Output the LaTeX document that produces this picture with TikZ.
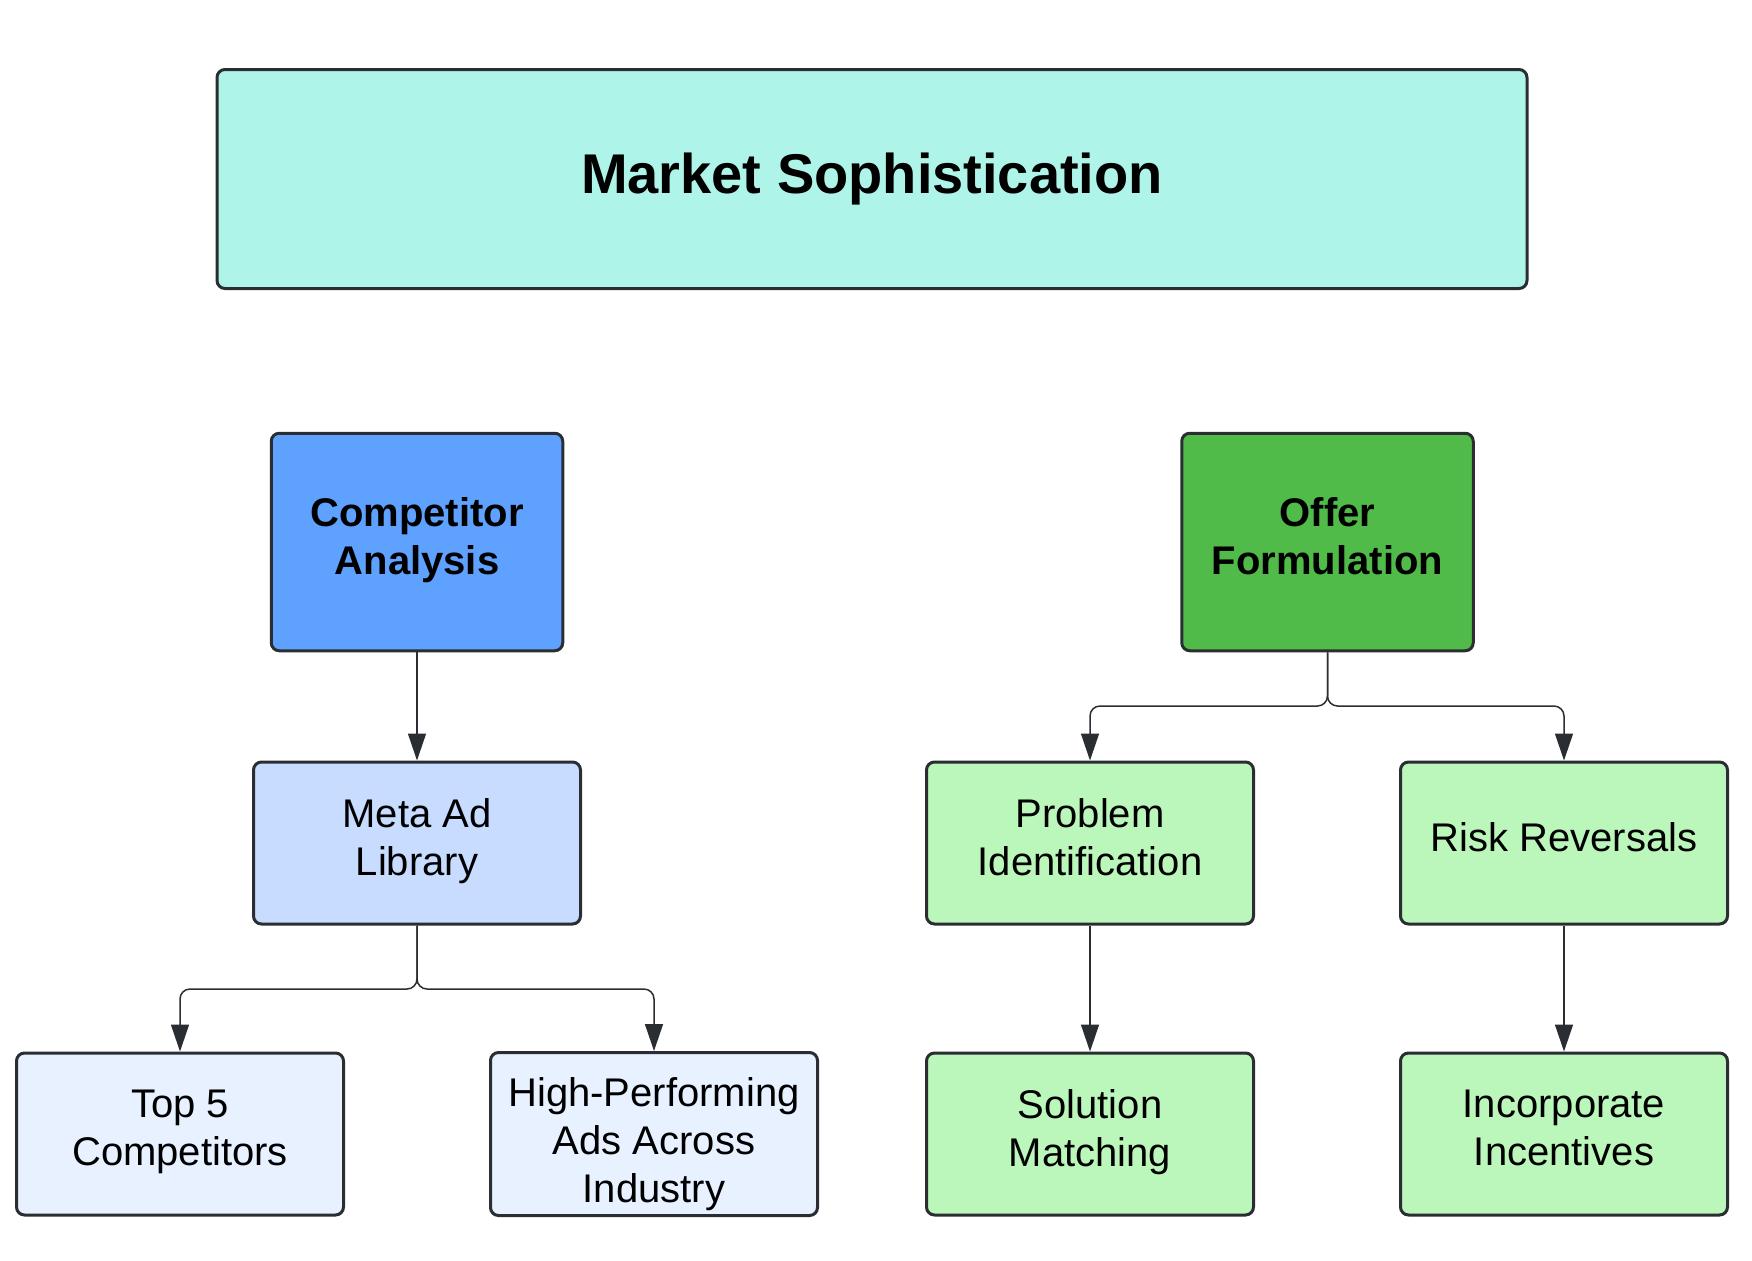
\documentclass[tikz,border=0pt]{standalone}
\usepackage{fontspec}
\setmainfont{Liberation Sans}
\usetikzlibrary{arrows.meta}

\definecolor{inkline}{HTML}{2A2E33}
\definecolor{titlefill}{HTML}{AEF4E8}
\definecolor{compfill}{HTML}{5EA1FF}
\definecolor{metafill}{HTML}{C7DCFF}
\definecolor{palefill}{HTML}{E8F1FF}
\definecolor{offerfill}{HTML}{51BB49}
\definecolor{leaffill}{HTML}{BBF6BB}

\begin{document}
\begin{tikzpicture}[x=0.5pt,y=-0.5pt,
        font=\fontsize{20}{24}\selectfont,
        every node/.style={draw=inkline,line width=1.5pt,rounded corners=4pt,align=center,inner sep=0pt},
        titlebox/.style={minimum width=655pt,minimum height=109.5pt,fill=titlefill,font=\fontsize{28}{34}\selectfont\bfseries},
        headbox/.style={minimum width=145.75pt,minimum height=108.75pt,font=\fontsize{20}{24}\selectfont\bfseries,
            execute at end node={\rule[-6.5pt]{0pt}{6.5pt}}},
        leafbox/.style={minimum width=163.5pt,minimum height=81pt,
            execute at end node={\rule[-6.5pt]{0pt}{6.5pt}}},
        tallbox/.style={leafbox,execute at begin node={\rule{0pt}{75pt}}},
        link/.style={draw=inkline,line width=0.75pt,rounded corners=5pt,-{Triangle[length=13.5pt,width=9pt]}}]

    \useasboundingbox (0,0) rectangle (1752,1260);

    \node[titlebox] (market) at (872,179) {Market Sophistication};

    % left branch
    \node[headbox,fill=compfill] (comp) at (417,542) {Competitor\\Analysis};
    \node[leafbox,fill=metafill] (meta) at (417,843) {Meta Ad\\Library};
    \node[leafbox,fill=palefill] (top5) at (180,1134) {Top 5\\Competitors};
    \node[tallbox,fill=palefill] (highperf) at (654,1134) {High-Performing\\Ads Across\\Industry};

    % right branch
    \node[headbox,fill=offerfill] (offer) at (1327.5,542) {Offer\\Formulation};
    \node[leafbox,fill=leaffill] (problem) at (1090,843) {Problem\\Identification};
    \node[leafbox,fill=leaffill] (risk) at (1564,843) {Risk Reversals};
    \node[leafbox,fill=leaffill] (solution) at (1090,1134) {Solution\\Matching};
    \node[leafbox,fill=leaffill] (incent) at (1564,1134) {Incorporate\\Incentives};

    \coordinate (metaJ) at (417,989);
    \coordinate (offerJ) at (1327.5,706);

    \draw[link] (comp.south) -- (meta.north);
    \draw[link] (meta.south) -- (metaJ) -| (top5.north);
    \draw[link] (meta.south) -- (metaJ) -| (highperf.north);
    \draw[link] (offer.south) -- (offerJ) -| (problem.north);
    \draw[link] (offer.south) -- (offerJ) -| (risk.north);
    \draw[link] (problem.south) -- (solution.north);
    \draw[link] (risk.south) -- (incent.north);
\end{tikzpicture}
\end{document}
